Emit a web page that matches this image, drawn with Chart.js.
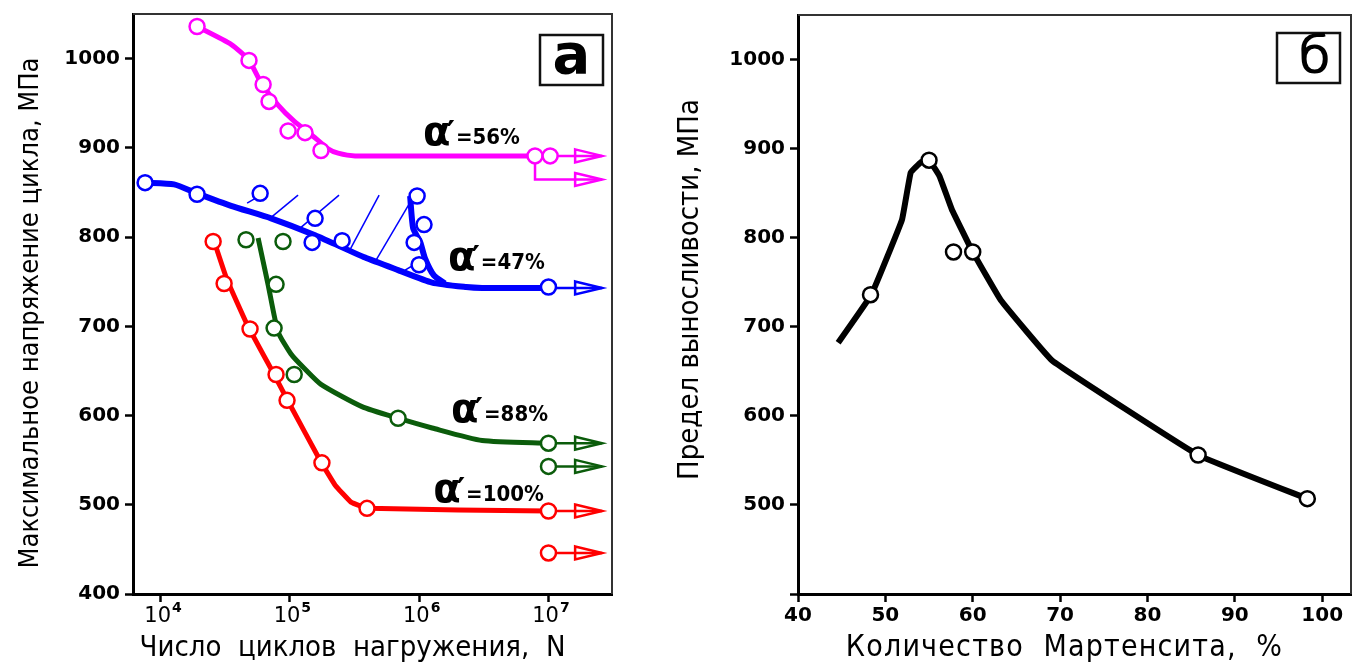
<!DOCTYPE html>
<html>
<head>
<meta charset="utf-8">
<script src="https://cdn.jsdelivr.net/npm/chart.js@4.4.1/dist/chart.umd.min.js"></script>
<style>
  html, body { margin: 0; padding: 0; background: #fff; }
  #wrap { position: relative; width: 1358px; height: 666px; }
  #cA { position: absolute; left: 0; top: 0; }
  #cB { position: absolute; left: 660px; top: 0; }
</style>
</head>
<body>
<div id="wrap">
  <canvas id="cA" width="640" height="666"></canvas>
  <canvas id="cB" width="698" height="666"></canvas>
</div>
<script>
// ---- panel а : number of cycles N vs max cycle stress, MPa ----
const decades = [1e4, 1e5, 1e6, 1e7];
const arrowTipN = 2.6e7;

// α' = 56%
const m56CurveN = [19150, 35100, 48300, 59800, 81100, 107800, 145900, 197400, 236000, 319400, 7.87e6];
const m56CurveS = [1036, 1016, 998, 973, 948, 930, 915, 899, 894, 891, 891];
const m56PtsN = [19150, 48300, 62100, 69000, 96900, 131000, 174000, 7.87e6, 1.03e7];
const m56PtsS = [1036, 998, 971, 952, 919, 917, 897, 891, 891];

// α' = 47%
const b47CurveN = [7590, 12700, 19150, 35100, 71600, 156700, 382000, 687000, 1.26e6, 2.31e6, 3.07e6, 1e7];
const b47CurveS = [861, 859, 849, 835, 821, 802, 777, 763, 749, 744, 743, 743];
const b47BranchN = [851000, 898000, 1.02e6, 1.11e6, 1.30e6, 1.58e6];
const b47BranchS = [846, 810, 794, 776, 757, 748];
const b47PtsN = [7590, 19150, 58900, 156700, 148600, 253600, 964000, 1.09e6, 914000, 998000, 1e7];
const b47PtsS = [861, 848, 849, 821, 794, 796, 846, 814, 794, 769, 744];
// hatch strokes (start / end)
const hatchN0 = [46700, 72800, 120000, 292000, 463000, 778000];
const hatchS0 = [838, 823, 810, 786, 774, 763];
const hatchN1 = [54800, 115700, 240000, 490000, 851000, 914000];
const hatchS1 = [844, 847, 847, 847, 839, 769];

// α' = 88%
const g88CurveN = [56800, 67800, 81000, 102000, 129000, 174000, 361000, 687000, 1.26e6, 3.07e6, 1e7];
const g88CurveS = [799, 747, 694, 669, 653, 635, 610, 597, 586, 572, 569];
const g88PtsN = [45800, 88500, 78200, 75500, 108000, 687000, 1e7, 1e7];
const g88PtsS = [797, 795, 747, 698, 646, 597, 569, 543];

// α' = 100%
const r100CurveN = [26400, 32700, 46700, 75500, 96900, 174000, 224000, 297000, 403000, 1e7];
const r100CurveS = [792, 752, 702, 646, 616, 548, 522, 503, 496, 493];
const r100PtsN = [25500, 31000, 49200, 78200, 95100, 177000, 395000, 1e7, 1e7];
const r100PtsS = [795, 748, 697, 646, 617, 547, 496, 493, 446];

// run-outs (arrows)
const m56ArrowS = [891, 864.5];
const b47ArrowS = [743];
const g88ArrowS = [569, 543];
const r100ArrowS = [493, 446];

// curve labels
const alphaText = ['56%', '47%', '88%', '100%'];
const alphaN = [1.11e6, 1.73e6, 1.83e6, 1.33e6];
const alphaS = [903, 763, 593, 503];

// ---- panel б : martensite amount vs endurance limit ----
const martX = [44.6, 48.4, 51.9, 52.9, 54.1, 55.0, 56.2, 57.6, 60.0, 63.2, 69.1, 85.8, 98.3];
const martY = [682, 736, 820, 873, 885, 887, 869, 832, 784, 730, 662, 556, 507];
const martPtsX = [48.3, 55.0, 57.8, 60.0, 85.8, 98.3];
const martPtsY = [736, 887, 784, 784, 556, 507];
const martTicks = [40, 50, 60, 70, 80, 90, 100];
const stressTicks = [400, 500, 600, 700, 800, 900, 1000];

const MAGENTA = '#ff00ff', BLUE = '#0000ff', GREEN = '#0b5c0b', RED = '#ff0000';
const sans = "'DejaVu Sans', sans-serif";
const sansC = "'DejaVu Sans Condensed', 'DejaVu Sans', sans-serif";

Chart.defaults.font.family = sans;

const pts = (xs, ys) => xs.map((x, i) => ({ x, y: ys[i] }));

function curve(xs, ys, color, w, tension) {
  return { data: pts(xs, ys), showLine: true, borderColor: color, borderWidth: w || 5,
           pointRadius: 0, tension: tension === undefined ? 0.2 : tension, order: 1 };
}
function circles(xs, ys, color) {
  return { data: pts(xs, ys), showLine: false, pointRadius: 7.5, pointBorderWidth: 2.5,
           borderColor: color, pointBackgroundColor: '#fff', order: 0 };
}
function arrow(data, color) {
  return { data, showLine: true, borderColor: color, borderWidth: 2.5, pointRadius: 0,
           tension: 0, order: 2, arrowHead: true };
}

// open triangle heads on run-out arrows
const arrowHeads = {
  id: 'arrowHeads',
  afterDatasetsDraw(chart) {
    const ctx = chart.ctx;
    chart.data.datasets.forEach((ds, i) => {
      if (!ds.arrowHead) return;
      const meta = chart.getDatasetMeta(i);
      const tip = meta.data[meta.data.length - 1];
      ctx.save();
      ctx.strokeStyle = ds.borderColor;
      ctx.lineWidth = 2.5;
      ctx.beginPath();
      ctx.moveTo(tip.x - 27, tip.y - 6.5);
      ctx.lineTo(tip.x, tip.y);
      ctx.lineTo(tip.x - 27, tip.y + 6.5);
      ctx.closePath();
      ctx.stroke();
      ctx.restore();
    });
  }
};

// top and right border, boxed panel letter, axis titles
function framePlugin(cfg) {
  return {
    id: 'frame',
    afterDraw(chart) {
      const { ctx, chartArea: a } = chart;
      ctx.save();
      ctx.strokeStyle = '#333';
      ctx.lineWidth = 2;
      ctx.beginPath();
      ctx.moveTo(a.left, a.top); ctx.lineTo(a.right, a.top); ctx.lineTo(a.right, a.bottom);
      ctx.stroke();
      ctx.strokeStyle = '#111';
      ctx.lineWidth = 2.5;
      const bx = a.right - cfg.boxRight - 63, by = a.top + cfg.boxTop;
      ctx.strokeRect(bx, by, 63, 50);
      ctx.fillStyle = '#000';
      ctx.font = cfg.letterFont;
      ctx.textAlign = 'center';
      ctx.textBaseline = 'alphabetic';
      ctx.fillText(cfg.letter, bx + 31.5 + cfg.letterDx, by + cfg.letterBase);

      ctx.textBaseline = 'middle';
      // x title
      ctx.font = cfg.xFont;
      ctx.letterSpacing = cfg.xSpacing;
      ctx.fillText(cfg.xTitle, (a.left + a.right) / 2 + cfg.xDx, 648);
      // y title
      ctx.font = cfg.yFont;
      ctx.letterSpacing = cfg.ySpacing;
      ctx.translate(cfg.yX, (a.top + a.bottom) / 2 + cfg.yDy);
      ctx.rotate(-Math.PI / 2);
      ctx.fillText(cfg.yTitle, 0, 0);
      ctx.restore();
    }
  };
}

// 10^n tick labels and α' annotations for panel а
const panelAText = {
  id: 'panelAText',
  afterDraw(chart) {
    const { ctx } = chart;
    const sx = chart.scales.x, sy = chart.scales.y;
    ctx.save();
    ctx.fillStyle = '#000';
    ctx.textBaseline = 'alphabetic';
    ctx.textAlign = 'left';
    decades.forEach(v => {
      const px = sx.getPixelForValue(v);
      const exp = String(Math.round(Math.log10(v)));
      ctx.font = '21px ' + sans;
      const w = ctx.measureText('10').width;
      ctx.font = 'bold 14px ' + sans;
      const we = ctx.measureText(exp).width;
      const x0 = px - (w + we) / 2 + 2;
      ctx.font = '21px ' + sans;
      ctx.fillText('10', x0, sx.top + 28);
      ctx.font = 'bold 14px ' + sans;
      ctx.fillText(exp, x0 + w + 1, sx.top + 18);
    });
    alphaText.forEach((t, i) => {
      let x = sx.getPixelForValue(alphaN[i]);
      const y = sy.getPixelForValue(alphaS[i]);
      ctx.font = 'bold 40px ' + sans;
      ctx.fillText('α', x - 2, y);
      x += ctx.measureText('α').width - 2;
      ctx.font = 'bold 32px ' + sans;
      ctx.fillText('′', x - 4, y - 2);
      x += ctx.measureText('′').width - 3;
      ctx.font = 'bold 22px ' + sansC;
      ctx.fillText('=' + t, x, y - 1);
    });
    ctx.restore();
  }
};

const tickFont = { family: sans, size: 20, weight: 'bold' };
const gridCfg = { drawOnChartArea: false, tickLength: 8, tickWidth: 2.5, tickColor: '#000' };
const borderCfg = { width: 3, color: '#000' };
const noPad = s => { s.paddingTop = 0; s.paddingBottom = 0; s.paddingLeft = 0; s.paddingRight = 0; };

new Chart(document.getElementById('cA'), {
  type: 'scatter',
  data: {
    datasets: [
      circles(m56PtsN, m56PtsS, MAGENTA),
      circles(b47PtsN, b47PtsS, BLUE),
      circles(g88PtsN, g88PtsS, GREEN),
      circles(r100PtsN, r100PtsS, RED),
      curve(m56CurveN, m56CurveS, MAGENTA),
      curve(b47CurveN, b47CurveS, BLUE, 6),
      curve(b47BranchN, b47BranchS, BLUE, 6),
      curve(g88CurveN, g88CurveS, GREEN),
      curve(r100CurveN, r100CurveS, RED, 5, 0.1),
      arrow([{ x: 1e7, y: m56ArrowS[0] }, { x: arrowTipN, y: m56ArrowS[0] }], MAGENTA),
      arrow([{ x: m56PtsN[7], y: m56ArrowS[0] }, { x: m56PtsN[7], y: m56ArrowS[1] }, { x: arrowTipN, y: m56ArrowS[1] }], MAGENTA),
      ...b47ArrowS.map(s => arrow([{ x: 1e7, y: s }, { x: arrowTipN, y: s }], BLUE)),
      ...g88ArrowS.map(s => arrow([{ x: 1e7, y: s }, { x: arrowTipN, y: s }], GREEN)),
      ...r100ArrowS.map(s => arrow([{ x: 1e7, y: s }, { x: arrowTipN, y: s }], RED)),
      ...hatchN0.map((n, i) => ({
        data: [{ x: n, y: hatchS0[i] }, { x: hatchN1[i], y: hatchS1[i] }],
        showLine: true, borderColor: BLUE, borderWidth: 1.5, pointRadius: 0, order: 3
      }))
    ]
  },
  options: {
    responsive: false,
    animation: false,
    layout: { autoPadding: false, padding: { left: 0, top: 14, right: 28, bottom: 0 } },
    plugins: { legend: { display: false }, tooltip: { enabled: false } },
    scales: {
      x: {
        type: 'logarithmic', min: 6120, max: 3.1e7,
        afterBuildTicks: s => { s.ticks = decades.map(v => ({ value: v })); },
        ticks: { autoSkip: false, callback: () => '' },
        grid: gridCfg, border: borderCfg,
        afterFit: s => { s.height = 72; noPad(s); }
      },
      y: {
        min: 400, max: 1050,
        afterBuildTicks: s => { s.ticks = stressTicks.map(v => ({ value: v })); },
        ticks: { color: '#000', font: tickFont, padding: 5, callback: v => String(v) },
        grid: gridCfg, border: borderCfg,
        afterFit: s => { s.width = 133; noPad(s); }
      }
    }
  },
  plugins: [arrowHeads, panelAText, framePlugin({
    letter: 'а', letterFont: 'bold 56px ' + sans, boxRight: 9, boxTop: 21, letterDx: 0, letterBase: 38,
    xTitle: 'Число  циклов  нагружения,  N', xFont: '29px ' + sansC, xSpacing: '0px', xDx: -20,
    yTitle: 'Максимальное напряжение цикла, МПа', yFont: '27px ' + sansC, ySpacing: '0px', yX: 31, yDy: 9
  })]
});

new Chart(document.getElementById('cB'), {
  type: 'scatter',
  data: {
    datasets: [
      circles(martPtsX, martPtsY, '#000'),
      curve(martX, martY, '#000', 6, 0.08)
    ]
  },
  options: {
    responsive: false,
    animation: false,
    layout: { autoPadding: false, padding: { left: 0, top: 15, right: 7, bottom: 0 } },
    plugins: { legend: { display: false }, tooltip: { enabled: false } },
    scales: {
      x: {
        type: 'linear', min: 40, max: 103.3,
        afterBuildTicks: s => { s.ticks = martTicks.map(v => ({ value: v })); },
        ticks: { autoSkip: false, color: '#000', font: tickFont, padding: 2 },
        grid: gridCfg, border: borderCfg,
        afterFit: s => { s.height = 72; noPad(s); }
      },
      y: {
        min: 400, max: 1050,
        afterBuildTicks: s => { s.ticks = stressTicks.map(v => ({ value: v })); },
        ticks: { color: '#000', font: tickFont, padding: 5, callback: v => (v === 400 ? '' : String(v)) },
        grid: gridCfg, border: borderCfg,
        afterFit: s => { s.width = 138; noPad(s); }
      }
    }
  },
  plugins: [framePlugin({
    letter: 'б', letterFont: '52px ' + sans, boxRight: 11, boxTop: 18, letterDx: 6, letterBase: 40,
    xTitle: 'Количество  Мартенсита,  %', xFont: '30px ' + sansC, xSpacing: '1.2px', xDx: -10,
    yTitle: 'Предел выносливости, МПа', yFont: '29px ' + sansC, ySpacing: '0px', yX: 30, yDy: -15
  })]
});
</script>
</body>
</html>
